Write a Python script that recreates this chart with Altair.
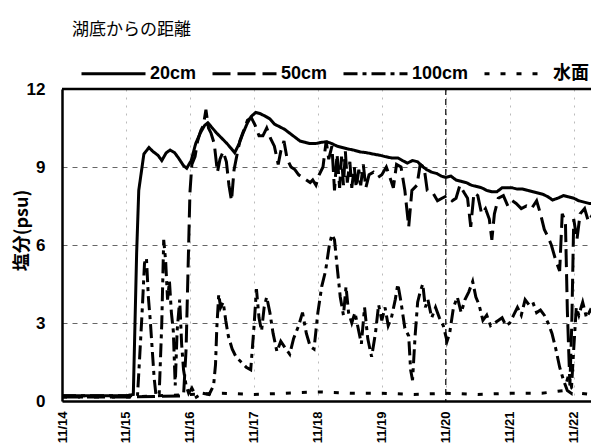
import altair as alt
import pandas as pd

# days since 11/14 00:00
t20 = [0, 1.0, 1.115, 1.167, 1.20, 1.28, 1.36, 1.42, 1.50, 1.56, 1.63, 1.69, 1.76, 1.82, 1.90, 1.95,
       2.02, 2.09, 2.16, 2.23, 2.28, 2.35, 2.42, 2.50, 2.58, 2.65, 2.70, 2.77, 2.83, 2.90, 2.96,
       3.03, 3.10, 3.18, 3.25, 3.32, 3.40, 3.48, 3.56, 3.64, 3.72, 3.80, 3.88, 3.96, 4.06, 4.14,
       4.22, 4.30, 4.38, 4.46, 4.56, 4.66, 4.76, 4.86, 4.97, 5.05, 5.15, 5.25, 5.32, 5.40, 5.48,
       5.56, 5.62, 5.70, 5.78, 5.86, 5.93, 6.0, 6.08, 6.16, 6.24, 6.32, 6.40, 6.48, 6.56, 6.64,
       6.72, 6.80, 6.88, 6.96, 7.04, 7.12, 7.20, 7.28, 7.36, 7.44, 7.52, 7.60, 7.67, 7.75, 7.84,
       7.92, 8.0, 8.08, 8.16, 8.24, 8.3]
v20 = [0.2, 0.2, 0.25, 5.7, 8.1, 9.5, 9.75, 9.6, 9.45, 9.25, 9.55, 9.65, 9.55, 9.35, 9.05, 8.95,
       9.25, 9.9, 10.3, 10.6, 10.7, 10.5, 10.3, 10.1, 9.9, 9.7, 9.55, 9.9, 10.3, 10.7, 10.95,
       11.1, 11.05, 10.95, 10.85, 10.65, 10.55, 10.45, 10.3, 10.15, 10.0, 9.95, 9.9, 9.9, 9.95, 9.97,
       9.9, 9.8, 9.75, 9.7, 9.65, 9.58, 9.55, 9.5, 9.45, 9.4, 9.35, 9.35, 9.25, 9.15, 9.25,
       9.2, 9.05, 8.9, 8.8, 8.75, 8.65, 8.6, 8.65, 8.5, 8.45, 8.4, 8.3, 8.25, 8.2, 8.1,
       8.05, 8.05, 8.2, 8.2, 8.2, 8.15, 8.15, 8.1, 8.05, 8.0, 7.95, 7.85, 7.73, 7.8, 7.9,
       7.85, 7.8, 7.7, 7.65, 7.6, 7.6]

t50 = [0, 1.0, 1.90, 1.94, 1.97, 2.0, 2.03, 2.08, 2.12, 2.17, 2.21, 2.25, 2.29, 2.33, 2.38, 2.43,
       2.47, 2.52, 2.57, 2.61, 2.65, 2.69, 2.73, 2.78, 2.84, 2.90, 2.96, 3.02, 3.08, 3.14, 3.20,
       3.26, 3.32, 3.38, 3.42, 3.47, 3.52, 3.58, 3.64, 3.70, 3.76, 3.82, 3.88, 3.92, 3.97, 4.02,
       4.08, 4.13, 4.17, 4.22, 4.26, 4.30, 4.34, 4.37, 4.40, 4.43, 4.46, 4.50, 4.53, 4.57, 4.60,
       4.64, 4.67, 4.71, 4.75, 4.80, 4.87, 4.94, 5.0, 5.07, 5.14, 5.18, 5.23, 5.30, 5.36, 5.42,
       5.47, 5.55, 5.60, 5.66, 5.71, 5.80, 5.87, 5.94, 6.02, 6.10, 6.16, 6.22, 6.29, 6.34, 6.39,
       6.44, 6.50, 6.56, 6.62, 6.68, 6.72, 6.76, 6.82, 6.90, 6.97, 7.04, 7.10, 7.18, 7.26, 7.34,
       7.42, 7.48, 7.54, 7.60, 7.65, 7.72, 7.78, 7.82, 7.87, 7.90, 7.94, 7.97, 8.0, 8.05, 8.1,
       8.17, 8.23, 8.3]
v50 = [0.15, 0.15, 0.2, 2.0, 5.0, 8.0, 9.1, 9.4, 10.0, 10.4, 10.6, 11.2, 10.5, 10.3, 9.9, 8.8,
       9.3, 9.6, 9.2, 8.3, 7.7, 8.9, 9.4, 10.0, 10.4, 10.8, 10.9, 10.6, 10.2, 10.2, 10.5,
       10.1, 9.8, 9.1, 9.6, 10.0, 9.3, 9.0, 8.9, 8.7, 8.6, 8.5, 8.4, 8.5, 8.3, 8.7,
       9.0, 10.0, 9.3, 9.8, 8.1, 9.5, 8.2, 9.4, 8.3, 9.6, 8.4, 9.2, 8.2, 9.0, 8.2,
       8.9, 8.3, 9.1, 8.2, 8.7, 8.8, 8.6, 8.7, 9.0, 8.5, 8.2, 9.1, 9.0, 8.1, 6.7,
       8.1, 8.3, 9.1, 9.0, 8.1, 8.0, 7.7, 7.8, 7.9, 7.7, 7.8, 8.3, 8.0, 7.8, 6.7,
       8.0, 7.9, 7.2, 7.4, 7.0, 6.2, 7.2, 7.8, 7.9, 7.5, 7.7, 7.6, 7.4, 7.5, 7.4,
       7.7, 7.2, 6.6, 6.3, 6.0, 5.4, 5.0, 7.2, 6.9, 3.5, 0.6, 3.0, 7.0, 6.2, 7.2,
       7.4, 6.9, 7.2]

t100 = [0, 1.18, 1.21, 1.25, 1.29, 1.32, 1.35, 1.38, 1.41, 1.44, 1.47, 1.52, 1.56, 1.59, 1.62,
        1.65, 1.68, 1.71, 1.74, 1.77, 1.80, 1.84, 1.87, 1.90, 1.94, 1.98, 2.03, 2.10, 2.20, 2.30,
        2.37, 2.40, 2.42, 2.45, 2.48, 2.52, 2.56, 2.60, 2.66, 2.72, 2.80, 2.88, 2.95, 3.0, 3.04,
        3.08, 3.12, 3.16, 3.20, 3.25, 3.30, 3.36, 3.42, 3.50, 3.56, 3.62, 3.70, 3.76, 3.82, 3.88,
        3.94, 4.00, 4.06, 4.12, 4.18, 4.22, 4.26, 4.30, 4.35, 4.40, 4.44, 4.48, 4.53, 4.58, 4.63,
        4.68, 4.73, 4.78, 4.84, 4.90, 4.95, 5.0, 5.05, 5.10, 5.15, 5.21, 5.25, 5.30, 5.36, 5.42,
        5.45, 5.48, 5.52, 5.56, 5.60, 5.64, 5.68, 5.72, 5.78, 5.84, 5.90, 5.96, 6.02, 6.06, 6.12,
        6.18, 6.24, 6.30, 6.36, 6.42, 6.47, 6.52, 6.58, 6.64, 6.70, 6.76, 6.82, 6.88, 6.94, 7.00,
        7.06, 7.12, 7.18, 7.24, 7.30, 7.36, 7.42, 7.48, 7.54, 7.60, 7.66, 7.72, 7.78, 7.84, 7.90,
        7.96, 8.0, 8.04, 8.08, 8.14, 8.2, 8.26, 8.3]
v100 = [0.2, 0.2, 1.5, 3.3, 5.3, 5.5, 4.0, 3.1, 2.0, 0.9, 0.2, 0.3, 3.0, 6.2, 5.4,
        3.9, 4.6, 3.4, 2.7, 0.6, 2.7, 3.9, 2.2, 1.2, 0.6, 0.3, 0.5, 0.15, 0.3, 0.25,
        0.6, 1.4, 2.8, 4.1, 3.6, 3.8, 3.1, 2.5, 2.0, 1.7, 1.5, 1.3, 1.2, 2.8, 4.3,
        3.2, 2.7, 3.6, 4.0, 3.4, 2.6, 1.9, 2.3, 2.0, 1.8, 2.4, 2.9, 3.4, 2.6, 2.1,
        2.0, 3.4, 4.4, 5.0, 6.0, 6.4, 6.2, 5.2, 4.0, 3.3, 4.4, 3.4, 3.0, 3.4, 2.8,
        2.2, 3.6, 2.4, 1.7, 2.6, 3.7, 3.1, 3.6, 2.9, 3.2, 3.9, 4.5, 3.8, 2.8, 2.5,
        1.2, 0.8, 2.5, 3.8, 4.2, 4.5, 3.6, 3.9, 3.2, 3.6, 3.2, 2.9, 2.3, 2.6, 3.6,
        4.0, 3.4, 3.9, 4.2, 4.6, 4.0, 3.7, 3.1, 3.3, 2.9, 3.0, 3.1, 3.2, 2.9, 3.0,
        3.3, 3.6, 3.3, 3.9, 3.7, 3.8, 3.4, 3.5, 3.3, 3.0, 2.6, 2.0, 1.3, 0.8, 0.4,
        0.3, 2.0, 3.6, 3.3, 3.8, 3.2, 3.5, 3.4]

tsurf = [0, 1.1, 1.5, 2.0, 2.5, 3.0, 3.5, 4.0, 4.5, 5.0, 5.5, 6.0, 6.5, 7.0, 7.5, 7.85, 7.92,
         7.97, 8.1, 8.3]
vsurf = [0.15, 0.15, 0.2, 0.25, 0.3, 0.25, 0.3, 0.35, 0.3, 0.3, 0.25, 0.3, 0.25, 0.3, 0.3, 0.4, 1.0,
         0.5, 0.3, 0.25]

series = ["20cm", "50cm", "100cm", "水面"]
dashes = [[1, 0], [18, 7], [14, 5, 4, 5], [5, 11]]
day_ticks = [0, 1, 2, 3, 4, 5, 6, 7, 8]
y_ticks = [0, 3, 6, 9, 12]

rows = []
for name, ts, vs in zip(series, [t20, t50, t100, tsurf], [v20, v50, v100, vsurf]):
    for i, (t, v) in enumerate(zip(ts, vs)):
        rows.append({"series": name, "t": t, "v": v, "i": i})
df = pd.DataFrame(rows)

FONT = "Liberation Sans, Noto Sans CJK JP"
JP = "Noto Sans CJK JP"

xscale = alt.Scale(domain=[0, 8.27], nice=False, zero=False)
yscale = alt.Scale(domain=[0, 12], nice=False)

lines = alt.Chart(df).mark_line(color="black", strokeWidth=3, clip=True).encode(
    x=alt.X("t:Q", scale=xscale, title=None,
            axis=alt.Axis(values=day_ticks, labelExpr="'11/' + (14 + datum.value)",
                          labelAngle=270, labelFont=FONT, labelFontSize=13,
                          labelFontWeight="bold", labelColor="black", labelPadding=10,
                          ticks=False, domainColor="black", domainWidth=2.5,
                          grid=True, gridColor="#bbbbbb", gridDash=[2, 6], gridWidth=1)),
    y=alt.Y("v:Q", scale=yscale,
            title="塩分(psu)",
            axis=alt.Axis(values=y_ticks, labelFont=FONT, labelFontSize=17,
                          labelFontWeight="bold", labelColor="black", labelPadding=17,
                          ticks=False, domainColor="black", domainWidth=2.5,
                          grid=True, gridColor="#666666", gridDash=[5, 5], gridWidth=1,
                          titleFont=JP, titleFontSize=18, titleFontWeight="bold",
                          titleColor="black", titleAngle=270, titleAlign="center",
                          titleBaseline="middle", titleX=-40, titleY=141)),
    strokeDash=alt.StrokeDash("series:N", scale=alt.Scale(domain=series, range=dashes),
                              legend=alt.Legend(orient="none", legendX=18, legendY=-49,
                                                direction="horizontal", title=None,
                                                symbolType="stroke", symbolSize=4096,
                                                symbolStrokeWidth=3, symbolStrokeColor="black",
                                                labelFont=FONT, labelFontSize=18,
                                                labelFontWeight="bold", labelColor="black",
                                                labelOffset=3, columnPadding=9, padding=0)),
    order="i:Q",
)

top_rule = alt.Chart(pd.DataFrame({"y": [12]})).mark_rule(color="black", strokeWidth=2.5).encode(
    y=alt.Y("y:Q", scale=yscale))
mid_rule = alt.Chart(pd.DataFrame({"x": [6]})).mark_rule(color="black", strokeWidth=1.2,
                                                        strokeDash=[6, 4]).encode(
    x=alt.X("x:Q", scale=xscale))

chart = alt.layer(mid_rule, lines, top_rule).properties(
    width=529, height=312,
    title=alt.TitleParams("湖底からの距離", anchor="start", frame="group", font=JP,
                          fontSize=17, fontWeight="normal", color="black", offset=1, dx=10),
    padding={"left": 62, "top": 89, "right": 0, "bottom": 47},
    autosize=alt.AutoSizeParams(type="none"),
).configure_view(stroke=None).configure(background="white")

chart.save("out.html", embed_options={"renderer": "svg", "actions": False})
